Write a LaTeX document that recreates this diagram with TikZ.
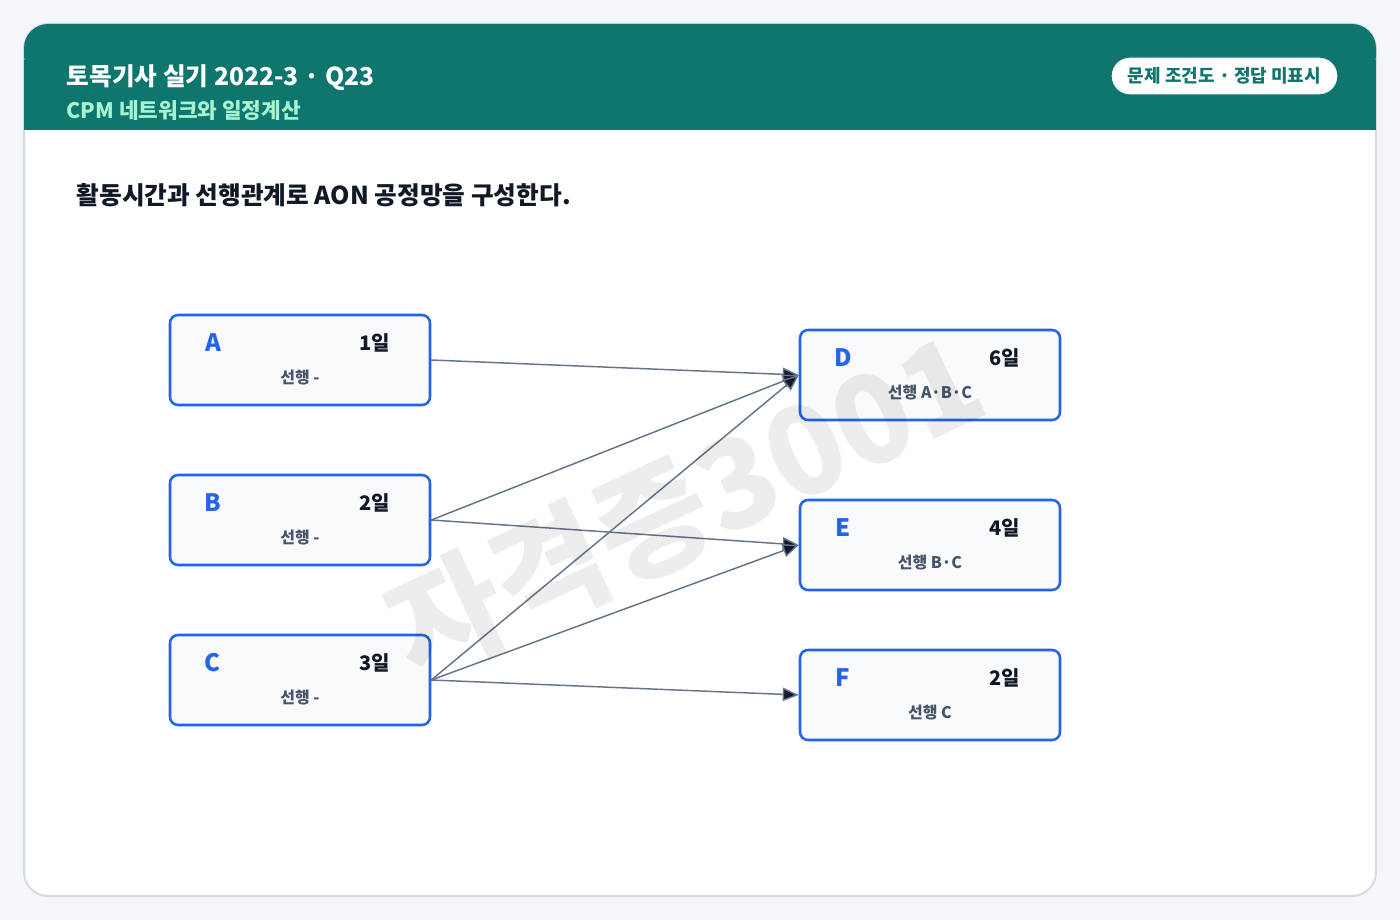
\documentclass[tikz,border=0pt]{standalone}
\usepackage{fontspec}
\setmainfont{Noto Sans CJK KR}
\usetikzlibrary{arrows.meta}
\definecolor{teal}{HTML}{0F766E}
\definecolor{mint}{HTML}{A7F3D0}
\definecolor{bg}{HTML}{F4F6F9}
\definecolor{cardline}{HTML}{D5DBE3}
\definecolor{blue}{HTML}{2563EB}
\definecolor{boxfill}{HTML}{F8FAFC}
\definecolor{ink}{HTML}{111827}
\definecolor{muted}{HTML}{475569}
\definecolor{edge}{HTML}{64748B}
\definecolor{tipc}{HTML}{0F172A}
\begin{document}
\begin{tikzpicture}[x=0.75pt,y=-0.75pt,
  task/.style={draw=blue,line width=1.9pt,fill=boxfill,rounded corners=6pt,minimum width=195pt,minimum height=67.5pt,inner sep=0pt},
  let/.style={font=\fontsize{18}{20}\selectfont\bfseries,text=blue,anchor=center},
  dur/.style={font=\fontsize{15}{18}\selectfont\bfseries,text=ink,anchor=center},
  pre/.style={font=\fontsize{12}{14}\selectfont\bfseries,text=muted,anchor=center},
  arr/.style={draw=edge,line width=1.1pt,-{Triangle[length=12pt,width=10pt,fill=tipc]}}]
\fill[bg] (0,0) rectangle (1400,920);
\useasboundingbox (0,0) rectangle (1400,920);
\draw[cardline,fill=white,line width=1.5pt,rounded corners=18pt] (24,24) rectangle (1376,896);
\fill[teal,rounded corners=18pt] (24,24) rectangle (1376,80);
\fill[teal] (24,60) rectangle (1376,130);
\node[anchor=west,text=white,font=\fontsize{18.5}{20}\selectfont\bfseries] (t1) at (62,78) {토목기사 실기 2022-3 · Q23};
\node[anchor=west,text=mint,font=\fontsize{16}{18}\selectfont\bfseries] (t2) at (62,111) {CPM 네트워크와 일정계산};
\draw[teal,fill=white,rounded corners=14pt,line width=1pt] (1111,57) rectangle (1338,95);
\node[text=teal,font=\fontsize{13.5}{16}\selectfont\bfseries] (pill) at (1224.5,76) {문제 조건도 · 정답 미표시};
\node[anchor=west,text=ink,font=\fontsize{18.5}{20}\selectfont\bfseries] (q) at (72,195) {활동시간과 선행관계로 AON 공정망을 구성한다.};
\foreach \n/\x/\y/\d/\p in {A/300/360/1일/선행 -,B/300/520/2일/선행 -,C/300/680/3일/선행 -,D/930/375/6일/선행 A·B·C,E/930/545/4일/선행 B·C,F/930/695/2일/선행 C}{
  \node[task] (\n) at (\x,\y) {};
  \node[let] (\n l) at (\x-87,\y-17) {\n};
  \node[dur] (\n d) at (\x+75,\y-17) {\d};
  \node[pre] (\n p) at (\x,\y+18) {\p};
}
\draw[arr] (A.east) -- (D.west);
\draw[arr] (B.east) -- (D.west);
\draw[arr] (B.east) -- (E.west);
\draw[arr] (C.east) -- (D.west);
\draw[arr] (C.east) -- (E.west);
\draw[arr] (C.east) -- (F.west);
\node[text=black,opacity=0.07,font=\fontsize{92}{100}\selectfont\bfseries,rotate=25] (wm) at (685,505) {자격증3001};
\end{tikzpicture}
\end{document}
